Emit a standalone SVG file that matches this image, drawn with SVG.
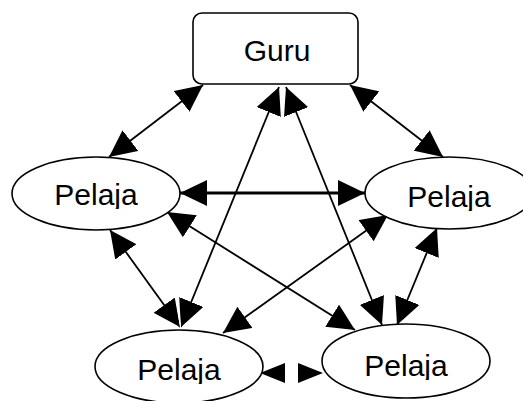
<svg xmlns="http://www.w3.org/2000/svg" width="523" height="401" viewBox="0 0 523 401">
<style>
.node{fill:#fff;stroke:#000;stroke-width:1.6}
.lbl{font-family:"Liberation Sans",Arial,sans-serif;font-size:30px;fill:#000;text-anchor:middle}
.c{stroke:#000;stroke-width:1.8;fill:none;marker-start:url(#ah);marker-end:url(#ah)}
.thick{stroke-width:3}
.short{stroke-width:3;marker-start:url(#ahs);marker-end:url(#ahs)}
</style>
<defs>
<marker id="ah" markerUnits="userSpaceOnUse" markerWidth="28" markerHeight="26" refX="27" refY="13" orient="auto-start-reverse" viewBox="0 0 28 26"><path d="M0,0 L27,13 L0,26 z" fill="#000"/></marker>
<marker id="ahs" markerUnits="userSpaceOnUse" markerWidth="26" markerHeight="20" refX="25" refY="10" orient="auto-start-reverse" viewBox="0 0 26 20"><path d="M0,0 L25,10 L0,20 z" fill="#000"/></marker>
<clipPath id="cl1"><rect x="0" y="150" width="523" height="59"/></clipPath>
<clipPath id="cl2"><rect x="0" y="150" width="523" height="61"/></clipPath>
<clipPath id="cl3"><rect x="0" y="330" width="523" height="54"/></clipPath>
<clipPath id="cl4"><rect x="0" y="330" width="523" height="50"/></clipPath>
</defs>
<rect width="523" height="401" fill="#fff"/>
<g id="connectors">
<line class="c" x1="203" y1="85" x2="109" y2="157"/>
<line class="c" x1="350" y1="85" x2="443" y2="157"/>
<line class="c thick" x1="180" y1="193" x2="365" y2="193"/>
<line class="c" x1="279" y1="87" x2="181" y2="327"/>
<line class="c" x1="286" y1="87" x2="382" y2="325"/>
<line class="c" x1="437" y1="228" x2="397" y2="325"/>
<line class="c" x1="110" y1="230" x2="180" y2="327"/>
<line class="c" x1="167" y1="212" x2="355" y2="330"/>
<line class="c" x1="388" y1="215" x2="223" y2="333"/>
<line class="short" x1="260" y1="373" x2="323" y2="373"/>
<line x1="282.5" y1="87" x2="282.5" y2="118" stroke="#fff" stroke-width="1.2"/>
<line x1="176" y1="295" x2="180.5" y2="327" stroke="#fff" stroke-width="1.2"/>
</g>
<g id="guru">
<rect class="node" x="193" y="13" width="165" height="71" rx="9" ry="9"/>
<text class="lbl" x="277" y="61">Guru</text>
</g>
<g id="pelaja-left">
<ellipse class="node" cx="96" cy="193.5" rx="84" ry="36.5"/>
<text class="lbl" x="96" y="205" clip-path="url(#cl1)">Pelaja</text>
</g>
<g id="pelaja-right">
<ellipse class="node" cx="449" cy="193" rx="84" ry="36"/>
<text class="lbl" x="449" y="207" clip-path="url(#cl2)">Pelaja</text>
</g>
<g id="pelaja-bottom-left">
<ellipse class="node" cx="179" cy="366.5" rx="84" ry="36.5"/>
<text class="lbl" x="179" y="380" clip-path="url(#cl3)">Pelaja</text>
</g>
<g id="pelaja-bottom-right">
<ellipse class="node" cx="406" cy="361" rx="84" ry="37"/>
<text class="lbl" x="406" y="376" clip-path="url(#cl4)">Pelaja</text>
</g>
</svg>
